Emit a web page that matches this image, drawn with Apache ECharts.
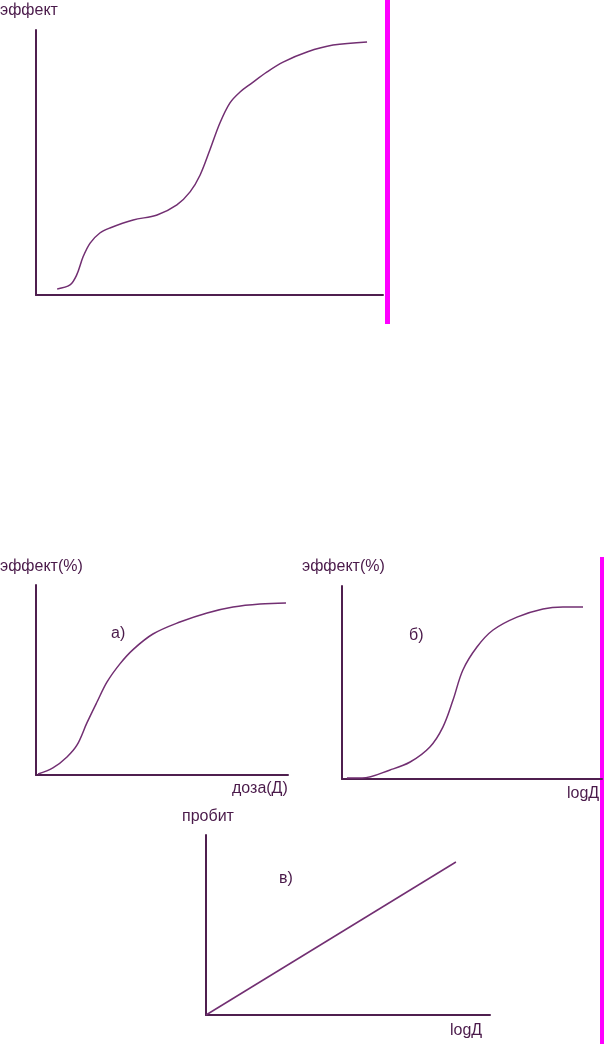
<!DOCTYPE html>
<html><head><meta charset="utf-8">
<script src="https://cdn.jsdelivr.net/npm/echarts@6/dist/echarts.min.js"></script>
<style>html,body{margin:0;padding:0;background:#fff}#c{width:610px;height:1044px}</style>
</head><body><div id="c"></div>
<script>
// Chart 1: two-stage dose-effect curve (x %, y %)
const curve1 = [[6.1,2.3],[9.8,3.8],[11.7,7.5],[13.6,14.5],[15.6,19.6],[18.4,23.4],[21.3,25.3],[28.0,28.3],[34.9,30.2],[40.6,34.0],[44.4,38.9],[47.3,45.3],[50.1,54.7],[53.0,64.9],[55.9,72.5],[58.8,76.6],[62.0,79.8],[66.6,84.2],[71.2,87.9],[78.1,91.7],[85.6,94.3],[95.4,95.5]];
// Chart а): effect vs dose
const curveA = [[0.8,0.5],[6.7,3.7],[12.3,9.5],[16.3,15.8],[20.2,27.4],[24.2,38.4],[28.2,49.0],[33.3,58.5],[38.5,66.0],[46.4,74.2],[57.1,80.5],[67.9,85.3],[78.2,88.4],[88.9,90.0],[99.2,90.5]];
// Chart б): effect vs log dose
const curveB = [[1.9,0.5],[7.7,0.5],[18.5,4.7],[26.2,8.8],[33.8,16.6],[38.8,26.9],[42.7,40.9],[46.5,56.5],[51.9,68.4],[58.1,77.2],[67.3,83.9],[77.3,88.1],[85.0,89.1],[92.7,89.1]];
// Chart в): probit vs log dose
const lineV = [[0,0],[88.0,85.0]];
const titles = ['эффект','эффект(%)','эффект(%)','пробит'];
const xNames = ['доза(Д)','logД','logД'];
const panelLabels = ['а)','б)','в)'];

const axisC = '#4f1f4f', lineC = '#722f72', textC = '#4a1a4a';
const grids = [
  {left:36, top:30, width:347, height:265},
  {left:36, top:585, width:252, height:190},
  {left:342, top:586, width:260, height:193},
  {left:206, top:835, width:284, height:180}
];
const mkX = i => ({type:'value', gridIndex:i, min:0, max:100, axisLine:{show:true, lineStyle:{color:axisC, width:2}}, axisTick:{show:false}, axisLabel:{show:false}, splitLine:{show:false}});
const mkY = i => ({type:'value', gridIndex:i, min:0, max:100, axisLine:{show:true, lineStyle:{color:axisC, width:2}}, axisTick:{show:false}, axisLabel:{show:false}, splitLine:{show:false}});
const mkS = (i, d, smooth) => ({type:'line', xAxisIndex:i, yAxisIndex:i, data:d, smooth:smooth, showSymbol:false, lineStyle:{color:lineC, width:1.5}, silent:true, animation:false});
const font = {fontFamily:'Liberation Sans, Arial, sans-serif', fontSize:16, fill:textC};
const txt = (x,y,t) => ({type:'text', left:x, top:y, style:Object.assign({text:t}, font)});

const chart = echarts.init(document.getElementById('c'), null, {renderer:'canvas'});
chart.setOption({
  animation:false,
  grid: grids,
  xAxis: [0,1,2,3].map(mkX),
  yAxis: [0,1,2,3].map(mkY),
  series: [mkS(0,curve1,0.35), mkS(1,curveA,0.35), mkS(2,curveB,0.35), mkS(3,lineV,false)],
  graphic: [
    txt(0,3,titles[0]),
    txt(0,559,titles[1]),
    txt(302,559,titles[2]),
    txt(182,809,titles[3]),
    txt(232,781,xNames[0]),
    txt(567,786,xNames[1]),
    txt(450,1023,xNames[2]),
    txt(111,626,panelLabels[0]),
    txt(409,628,panelLabels[1]),
    txt(279,871,panelLabels[2]),
    {type:'rect', shape:{x:385, y:0, width:5, height:324}, style:{fill:'#ff00ff'}},
    {type:'rect', shape:{x:600, y:557, width:4, height:487}, style:{fill:'#ff00ff'}}
  ]
});
</script></body></html>
